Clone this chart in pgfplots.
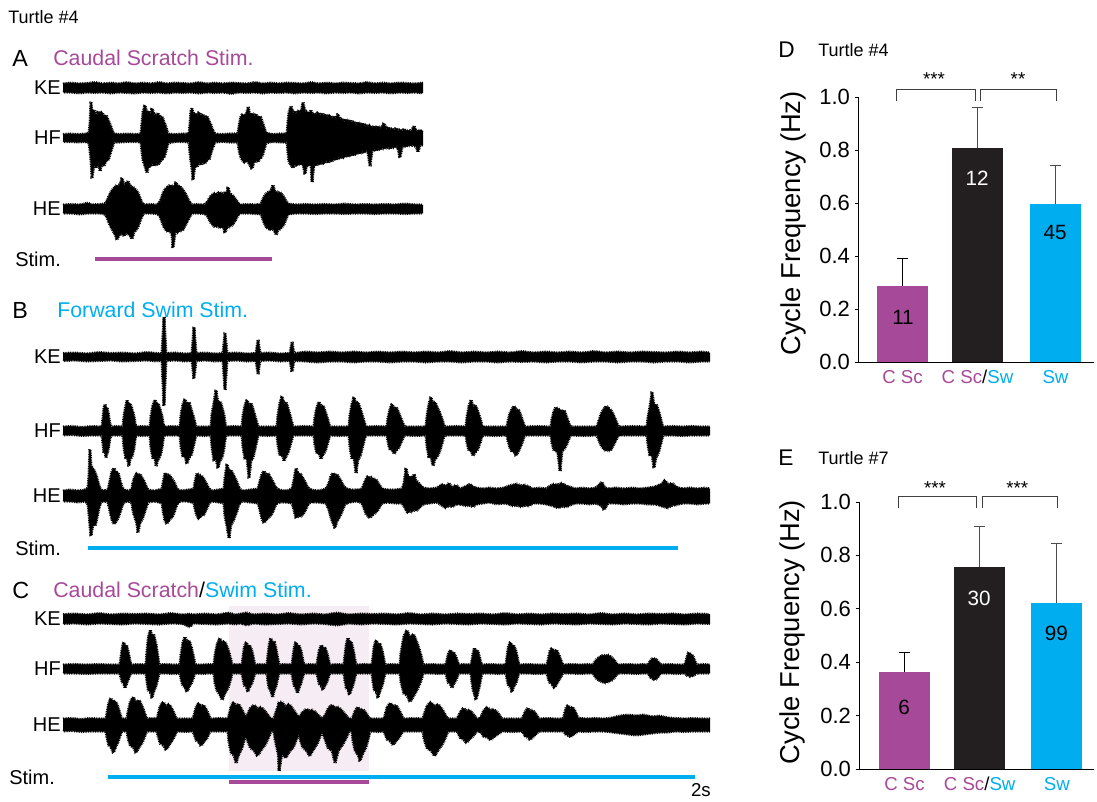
\documentclass[border=0pt]{standalone}
\usepackage{fontspec}
\setmainfont{Liberation Sans}
\usepackage{pgfplots}
\pgfplotsset{compat=1.18}
\usepackage{pgfplotstable}
\usepgfplotslibrary{fillbetween}
\usetikzlibrary{decorations.pathmorphing}
\definecolor{mag}{RGB}{167,73,153}
\definecolor{cy}{RGB}{0,174,239}
\definecolor{barblk}{RGB}{35,31,32}
\definecolor{hlpink}{RGB}{246,236,244}

% ---------- Panel A ----------
\pgfplotstableread{
x u l
63 4 -4
71 5 -4
79 4 -5
87 4.5 -4
95 5.5 -4.5
103 4 -4
111 5 -5
119 4 -4
127 5.5 -4.5
135 4 -5
143 5 -4
151 4 -4.5
159 5.5 -4
167 4 -5
175 5 -4
183 4.5 -4.5
191 4 -4
199 5.5 -5
207 4 -4
215 5 -4.5
223 4 -4
231 5 -5.5
239 4.5 -4
247 4 -4.5
255 5.5 -4
263 4 -5
271 5 -4
279 4 -4.5
287 5 -4
295 4.5 -5
303 4 -4
311 5.5 -4.5
319 4 -4
327 5 -5
335 4 -4
343 5 -4.5
351 4.5 -4
359 4 -5
367 5.5 -4
375 4 -4.5
383 5 -4
391 4 -5
399 5 -4
407 4.5 -4.5
415 4 -4
423 5 -5
}\tAKE

\pgfplotstableread{
x u l
63 3.5 -3.5
70 4 -3.5
78 3.5 -4
86 4 -3.5
89 5 -5
90 14 -12
91 36 -22
92 24 -40
94 28 -26
96 22 -30
98 27 -24
100 24 -33
102 26 -25
104 21 -28
106 23 -22
108 18 -23
110 14 -16
112 8 -10
114 4 -4
120 3.5 -4
128 4 -3.5
136 3.5 -3.5
141 4 -4
142 15 -14
143 26 -22
145 33 -28
147 24 -35
149 27 -26
151 23 -29
152 30 -24
154 24 -28
156 22 -25
158 25 -27
160 20 -24
162 22 -21
164 16 -20
166 11 -13
168 4 -5
175 3.5 -3.5
183 4 -3.5
189 4 -4
190 14 -15
191 28 -24
192 30 -30
193 24 -42
195 25 -26
197 22 -29
199 26 -24
201 21 -27
203 24 -23
205 20 -26
207 22 -21
209 17 -22
211 13 -15
213 7 -9
215 4 -4
222 3.5 -3.5
230 4 -4
238 4 -4
239 12 -12
241 22 -20
243 24 -23
245 21 -25
247 26 -22
248 31 -24
250 23 -27
252 25 -31
254 22 -24
256 24 -22
258 20 -24
260 22 -20
262 17 -19
264 11 -12
266 5 -5
272 3.5 -3.5
280 4 -4
287 4 -4
288 16 -15
289 26 -24
291 32 -27
293 25 -30
295 27 -24
297 24 -28
299 28 -25
301 25 -27
303 36 -26
305 26 -36
307 27 -25
309 24 -28
311 28 -24
312 24 -44
314 25 -26
316 23 -28
318 26 -24
320 22 -27
322 25 -23
324 21 -26
326 24 -22
328 20 -25
330 23 -21
332 19 -24
334 22 -20
336 18 -22
338 24 -19
340 17 -21
342 20 -18
344 16 -20
346 19 -17
348 15 -19
350 18 -16
352 14 -18
354 17 -15
356 13 -17
358 16 -14
360 12 -16
362 15 -13
364 12 -15
366 14 -12
368 11 -14
370 13 -28
372 10 -13
374 12 -11
376 10 -13
378 12 -10
380 9 -12
382 11 -10
384 15 -11
386 9 -10
388 11 -9
390 8 -11
392 10 -9
394 8 -10
396 10 -8
398 7 -10
400 9 -20
402 7 -9
404 9 -8
406 7 -9
408 8 -7
410 7 -8
412 8 -7
414 12 -8
416 7 -8
418 8 -14
420 7 -7
423 7 -7
}\tAHF

\pgfplotstableread{
x u l
63 4 -4
72 4.5 -4
80 4 -5
88 6 -4
92 4 -4
100 4.5 -4
105 5 -5
107 8 -8
109 13 -14
111 17 -18
113 20 -22
115 22 -25
117 24 -31
119 23 -26
121 27 -24
122 31 -25
124 24 -27
126 25 -24
128 28 -25
130 23 -26
132 22 -30
134 21 -23
136 19 -21
138 16 -18
140 11 -12
142 6 -7
144 4 -4
150 4.5 -4
157 4 -4.5
160 7 -7
162 13 -13
164 18 -18
166 21 -21
168 22 -23
170 24 -22
172 22 -25
173 23 -39
175 24 -24
176 27 -22
178 22 -24
180 23 -21
182 20 -22
184 18 -19
186 14 -15
188 10 -11
190 6 -7
192 4 -4
198 4.5 -4
204 4 -4.5
207 6 -6
209 10 -10
211 13 -14
213 15 -16
215 16 -18
217 15 -17
219 17 -18
221 16 -19
223 15 -17
225 17 -24
227 16 -18
228 22 -17
230 15 -18
232 14 -16
234 12 -14
236 9 -10
238 6 -6
240 4 -4
248 4.5 -4
256 4 -4.5
261 5 -5
263 10 -11
265 14 -16
267 16 -19
269 17 -20
271 18 -21
273 24 -20
275 17 -22
276 18 -26
278 16 -21
280 17 -20
282 14 -18
284 12 -15
286 8 -10
288 5 -5
296 4 -4
305 4.5 -4
315 4 -4.5
325 4.5 -4
335 4 -4
345 5 -4.5
355 4 -4
365 4.5 -4
375 4 -4.5
385 4.5 -4
395 4 -4
405 5 -4.5
415 4 -4
423 4 -4
}\tAHE

% ---------- Panel B ----------
\pgfplotstableread{
x u l
63 3.5 -3.5
75 4 -3
87 3 -4
99 4.5 -3.5
111 3.5 -3
123 4 -4
135 3 -3.5
147 4.5 -3
157 3.5 -4
162 3 -3
164 40 -49
166 3.5 -3.5
175 4 -3
185 3 -4
192 3.5 -3.5
194 30 -22
196 3.5 -3.5
205 4 -3
215 3 -4
223 3.5 -3.5
225 24 -33
227 3.5 -3.5
237 4 -3
247 3 -4
256 3.5 -3.5
258 17 -17
260 3.5 -3.5
270 4 -3
280 3 -4
290 3.5 -3.5
292 15 -15
294 3.5 -3.5
306 5 -4
318 4 -5
330 5 -4
342 4 -4
354 5 -5
366 4 -4
378 5 -4
390 4 -5
402 5 -4
414 4 -4
426 5 -5
438 4 -4
450 5.5 -4
462 4 -5
474 5 -4
486 4 -4
498 5 -5
510 4 -4
522 5.5 -4.5
534 4 -4
546 5 -5
558 4 -4
570 5 -4
582 4 -5
594 5.5 -4
606 4 -4
618 5 -5
630 4 -4
642 5 -4
654 4.5 -5
666 4 -4
678 5 -4
690 4 -5
702 5 -4
710 4 -4
}\tBKE

\pgfplotstableread{
x u l
63 4 -4
72 4.5 -3.5
82 3.5 -4.5
92 4.5 -4
102 4 -4
103 13 -13
104 23 -22
105 27 -20
106 21 -27
107 24 -22
108 19 -20
109 13 -14
110 7 -7
111 4 -4
117 4.5 -4
123 4 -4
124 15 -17
126 26 -28
127 31 -26
129 25 -35
130 28 -28
132 22 -26
134 15 -17
135 8 -9
136 4 -4
143 4.5 -4.5
150 4 -4
151 15 -17
153 26 -28
155 31 -26
156 25 -35
158 28 -28
160 22 -26
162 15 -17
163 8 -9
164 4 -4
172 4.5 -4
180 4 -4
181 16 -16
183 27 -26
185 32 -25
187 26 -33
189 29 -26
191 22 -25
193 16 -17
195 8 -8
196 4 -4
204 4 -4.5
211 4 -4
212 17 -16
214 28 -30
216 41 -27
218 27 -37
220 30 -29
222 24 -27
224 16 -17
225 8 -9
226 4 -4
234 4.5 -4
242 4 -4
243 15 -16
245 26 -28
247 31 -27
249 25 -47
251 28 -29
253 22 -27
255 15 -18
257 8 -9
258 4 -4
268 4 -4.5
277 4 -4
278 16 -14
280 28 -25
282 35 -22
284 27 -30
286 29 -25
288 23 -22
290 16 -15
292 8 -8
293 4 -4
304 4.5 -4
314 4 -4
315 14 -14
317 24 -23
319 29 -21
321 23 -28
323 26 -23
325 20 -21
327 14 -14
329 7 -7
330 4 -4
340 4 -4.5
349 4 -4
350 16 -16
352 27 -28
354 34 -26
356 26 -42
358 29 -28
360 23 -26
362 17 -18
364 10 -10
365 6 -6
366 4 -4
377 4.5 -4
387 4 -4
388 13 -11
390 22 -19
392 27 -18
394 22 -23
396 24 -19
398 20 -18
400 15 -14
402 10 -9
404 5 -5
405 4 -4
416 4 -4.5
426 4 -4
427 15 -15
429 27 -27
431 34 -25
433 26 -35
435 29 -28
437 24 -26
439 20 -22
441 15 -16
443 9 -9
444 5 -5
445 4 -4
456 4.5 -4
466 4 -4
467 14 -12
469 25 -20
471 31 -19
473 24 -25
475 26 -21
477 22 -20
479 16 -15
481 10 -9
482 5 -5
483 4 -4
495 4 -4.5
507 4 -4
508 10 -10
510 18 -17
512 22 -21
514 25 -20
516 21 -25
518 22 -21
520 18 -17
522 12 -12
524 6 -6
525 4 -4
538 4.5 -4
551 4 -4
552 12 -12
554 20 -20
556 24 -19
558 20 -22
560 22 -40
562 19 -20
564 21 -18
566 16 -15
568 10 -10
570 5 -5
571 4 -4
585 4 -4.5
597 4 -4
598 7 -7
600 14 -12
602 19 -16
604 22 -18
606 25 -20
608 23 -19
610 22 -20
612 19 -17
614 15 -13
616 10 -9
618 5 -5
619 4 -4
633 4.5 -4
647 4 -4
648 14 -14
650 24 -25
652 39 -23
654 25 -37
656 27 -26
658 22 -23
660 15 -16
662 7 -8
663 4 -4
672 4.5 -4
682 4 -4.5
692 4.5 -4
702 4 -4
710 4 -4
}\tBHF

\pgfplotstableread{
x u l
63 5 -5
70 6 -5
78 5 -6
85 6 -5
88 8 -8
89 20 -18
90 47 -30
91 30 -40
93 27 -28
95 24 -30
97 18 -22
99 10 -12
101 6 -6
105 5 -5
108 6 -6
110 15 -15
112 25 -24
114 28 -28
116 22 -26
118 24 -22
120 16 -17
122 9 -10
124 6 -6
129 5 -5
132 7 -7
133 14 -15
135 20 -22
137 23 -28
138 21 -37
140 22 -26
142 18 -24
144 15 -18
146 10 -12
148 6 -6
155 5 -5
162 7 -7
163 13 -14
165 23 -25
167 20 -28
169 22 -24
171 18 -22
173 16 -20
175 12 -14
177 7 -8
180 5 -5
188 6 -5
194 7 -7
195 14 -13
197 23 -20
199 20 -23
201 21 -19
203 18 -20
205 15 -16
207 11 -12
209 7 -7
212 5 -5
218 6 -6
224 7 -7
225 18 -20
227 32 -30
229 24 -42
231 26 -28
233 22 -26
235 18 -20
237 14 -15
239 8 -8
242 5 -5
250 6 -6
258 7 -7
260 15 -14
262 22 -23
264 25 -27
266 21 -24
268 23 -22
270 19 -20
272 16 -18
274 12 -13
276 8 -8
279 6 -6
286 5 -6
292 7 -7
294 16 -14
296 28 -22
298 22 -20
300 23 -21
302 19 -19
304 16 -17
306 12 -13
308 8 -8
311 6 -6
318 5 -6
326 7 -7
329 13 -14
331 20 -22
333 23 -27
335 20 -32
337 22 -25
339 18 -22
341 15 -18
343 11 -13
345 8 -8
350 6 -6
357 6 -5
362 7 -7
364 12 -12
366 17 -18
368 20 -20
370 18 -22
372 19 -19
374 16 -18
376 17 -16
378 13 -14
380 10 -10
382 7 -7
388 6 -6
395 6 -7
402 7 -7
404 12 -10
406 28 -14
408 18 -17
410 20 -15
412 17 -16
414 22 -14
416 15 -15
418 14 -13
420 11 -11
423 8 -8
430 7 -7
437 8 -6
443 12 -10
446 9 -12
449 13 -9
452 8 -11
456 11 -8
460 7 -8
467 10 -10
470 12 -9
473 9 -11
476 8 -8
483 7 -7
490 8 -6
497 7 -8
504 8 -7
509 10 -8
513 11 -10
517 12 -9
521 10 -11
525 11 -9
529 9 -10
533 7 -7
540 8 -7
546 7 -8
550 10 -9
554 12 -10
558 11 -12
562 13 -10
566 10 -11
570 9 -9
575 7 -7
582 8 -7
590 7 -8
596 8 -7
602 14 -10
604 9 -14
608 7 -7
616 8 -7
624 7 -8
632 8 -7
640 7 -7
648 8 -8
655 9 -8
662 12 -10
665 16 -11
668 11 -12
672 13 -9
676 9 -9
682 7 -7
690 8 -7
698 7 -8
705 8 -7
710 7 -7
}\tBHE

% ---------- Panel C ----------
\pgfplotstableread{
x u l
63 4.5 -4.5
75 5 -4
87 4 -5
99 5.5 -4
111 4 -4.5
123 5 -5
135 4.5 -4
147 5 -4.5
159 4 -5
171 5.5 -4
183 4 -4.5
190 5 -8
193 4 -4
205 5 -4.5
217 4 -5
229 6 -4
235 4 -5
241 5 -4
247 6 -6
253 4 -4
265 5 -5
277 4 -4.5
289 5.5 -4
301 4 -5
313 5 -4
325 4 -4.5
337 6 -6
349 4 -4
361 5 -5
373 4.5 -4
385 5 -4.5
397 4 -5
409 5.5 -4
421 4 -4.5
433 5 -5
445 4 -4
457 5 -4.5
469 4.5 -5
481 5 -4
493 4 -4.5
505 5.5 -5
517 4 -4
529 5 -4.5
541 4 -5
553 5 -4
565 4.5 -4.5
577 5 -5
589 4 -4
601 5.5 -4.5
613 4 -5
625 5 -4
637 4 -4.5
649 5 -5
661 4.5 -4
673 5 -4.5
685 4 -5
697 5 -4
710 4.5 -4.5
}\tCKE

\pgfplotstableread{
x u l
63 4 -4
75 4.5 -4
87 4 -4.5
99 4.5 -4
110 4 -4
120 4 -4
121 12 -9
122.5 23 -14
124 27 -15
125 22 -19
126.5 24 -15
128 18 -11
130 8 -6
131 4 -4
138 4.5 -4
146 4 -4
147 18 -13
148.5 33 -22
150.5 39 -23
152 31 -29
153.5 35 -23
156 25 -17
158 12 -9
159 4 -4
166 4.5 -4
173 4 -4.5
180 4 -4
181 14 -10
183 27 -17
185 32 -18
187 26 -23
189 29 -18
191.5 21 -14
194 10 -7
195 4 -4
202 4 -4.5
209 4.5 -4
214 4 -4
215 14 -14
217.5 26 -23
220 31 -25
222 25 -31
224.5 28 -25
228 20 -19
231 9 -9
232 4 -4
237 4.5 -4
242 4 -4
243 12 -10
244.5 23 -17
246.5 27 -18
248 22 -23
249.5 24 -18
252 18 -14
254 8 -7
255 4 -4
261 4.5 -4
267 4 -4
268 14 -13
269.5 26 -21
271 31 -22
272.5 25 -28
274 28 -22
276 20 -17
278 9 -8
279 4 -4
286 4.5 -4
292 4 -4
293 12 -11
294.5 23 -18
296 27 -19
297.5 22 -24
299 24 -19
301 18 -14
303 8 -7
304 4 -4
311 4.5 -4
317 4 -4
318 11 -9
319.5 20 -16
321.5 24 -17
323 19 -21
324.5 22 -17
327 16 -13
329 7 -6
330 4 -4
337 4.5 -4
344 4 -4
345 14 -12
346.5 26 -20
348 31 -21
349.5 25 -26
351 28 -21
353 20 -16
355 9 -8
356 4 -4
364 4.5 -4
372 4 -4
373 13 -13
374.5 25 -22
376.5 29 -23
378 23 -29
379.5 26 -23
382 19 -17
384 9 -9
385 4 -4
393 4.5 -4
400 4 -4
401 16 -13
404 33 -25
407 39 -26
410 31 -33
413.5 35 -27
417.5 25 -20
420 17 -14
422 10 -9
423 4 -4
431 4.5 -4
439 4 -4.5
446 4 -4
447 9 -9
448.5 16 -14
450.5 19 -15
452 15 -19
453.5 17 -15
456 12 -11
458 6 -6
459 4 -4
465 4.5 -4
471 4 -4
472 9 -14
473.5 18 -23
474.5 21 -25
476 17 -31
477.5 19 -25
479 14 -19
481 6 -9
482 4 -4
490 4.5 -4
499 4 -4.5
506 4 -4
507 12 -10
508.5 23 -17
510.5 27 -18
512 22 -23
513.5 24 -18
516 18 -14
518 8 -7
519 4 -4
527 4.5 -4
537 4 -4.5
547 4 -4
548 9 -9
550 18 -14
552 21 -15
554.5 17 -19
556.5 19 -15
559 14 -11
562 6 -6
563 4 -4
571 4.5 -4
580 4 -4.5
588 4.5 -4
593 4 -4
594 6 -6
597 10 -10
600 12 -12
603 14 -13
606 13 -14
609 14 -12
612 11 -11
615 8 -8
617 5 -5
618 4 -4
627 4.5 -4
637 4 -4.5
644 4.5 -4
648 4 -4
649 6 -6
651 9 -9
653 11 -10
655 10 -11
657 9 -9
660 5 -5
661 4 -4
669 4.5 -4
677 4 -4.5
685 4 -4
686 8 -5
687.5 14 -7
689 17 -7
690.5 13 -8
692 15 -7
694 10 -6
696 5 -5
697 4 -4
704 4.5 -4
710 4 -4
}\tCHF

\pgfplotstableread{
x u l
63 6 -6
72 6.5 -5.5
81 5.5 -6.5
90 6.5 -6
99 6 -6
106 6 -6
107 12 -13
109 23 -21
111 27 -22
113.5 22 -28
115.5 24 -22
118 18 -17
121 8 -8
122 6 -6
125 6 -6
127 6 -6
128 13 -13
130.5 24 -21
133.5 28 -22
136 22 -28
139 25 -22
142.5 18 -17
146 8 -8
147 6 -6
152 6.5 -6
157 6 -6
158 10 -11
160.5 20 -19
163.5 23 -20
166 18 -25
169 21 -20
172.5 15 -15
176 7 -8
177 6 -6
185 6 -6.5
193 6 -6
194 10 -9
196.5 19 -16
199 22 -17
201 18 -21
203.5 20 -17
207 14 -13
210 7 -6
211 6 -6
220 6.5 -6
228 6 -6
229 10 -17
231.5 20 -29
234 23 -30
236 18 -38
238.5 21 -30
242 15 -23
245 9 -12
246 8 -9
247 9 -14
250.5 17 -23
254 20 -25
257.5 16 -31
261 18 -25
265.5 13 -19
270 7 -9
271 6 -6
274 6 -6
275 10 -14
278.5 20 -30
279 23 -46
282 23 -28
285.5 18 -33
289 21 -27
293.5 15 -22
298 8 -10
299 7 -8
300 9 -14
303 13 -23
306.5 16 -25
309.5 14 -31
313 15 -25
317 11 -19
321 7 -9
322 6 -6
325 9 -14
328.5 17 -24
332 20 -25
335 17 -38
338.5 18 -25
343 13 -19
348 7 -9
349 6 -6
352 6 -6
353 8 -16
355.5 15 -27
358 18 -29
360 14 -36
362.5 16 -29
366 12 -22
369 7 -11
370 6 -6
378 6 -6.5
384 6 -6
385 10 -9
387.5 19 -15
390.5 22 -16
393 18 -20
396 20 -16
399.5 14 -12
403 7 -6
404 6 -6
414 6.5 -6
423 6 -6
424 10 -14
427.5 20 -24
431 23 -25
434.5 18 -31
438 21 -25
442.5 15 -19
447 7 -9
448 6 -6
453 6 -6
457 6 -6
458 8 -8
461 14 -14
463.5 17 -14
466.5 14 -18
469.5 15 -14
473 11 -11
477 6 -6
479 6 -6
481 8 -7
484 15 -12
487.5 18 -12
490.5 14 -15
493.5 16 -12
498 12 -9
502 6 -6
512 6 -6.5
522 6 -6
523 8 -7
525.5 14 -12
528 17 -12
530 14 -15
532.5 15 -12
536 11 -9
539 6 -6
548 6.5 -6
556 6 -6
563 6 -6
564 9 -6
566 17 -10
568 20 -10
570.5 16 -12
572.5 18 -10
575.5 13 -8
578 7 -6
586 6 -6.5
595 6.5 -6
604 6 -6
612 7 -7
620 9 -8
628 10 -9
636 9 -10
644 10 -9
652 8 -8
660 9 -7
668 7 -7
676 6.5 -6
684 6 -6.5
692 6.5 -6
701 6 -6
710 6 -6
}\tCHE

\pgfplotsset{
  trace/.style={scale only axis, hide axis, ymin=-60, ymax=60, height=90pt,
    clip=false, anchor=west, set layers},
  traceA/.style={trace, xmin=63, xmax=423, width=270pt},
  traceBC/.style={trace, xmin=63, xmax=710, width=485.25pt},
  fuzz/.style={black, line width=0.45pt, line join=bevel, decorate,
    decoration={zigzag, amplitude=1.1pt, segment length=1.3pt}},
  barax/.style={scale only axis, ymin=0, ymax=1, clip=false,
    axis x line=bottom, axis y line=left,
    axis line style={-, line width=0.75pt, black},
    ytick={0,0.2,0.4,0.6,0.8,1.0},
    /pgf/number format/assume math mode=true,
    yticklabel style={/pgf/number format/.cd, fixed, fixed zerofill, precision=1,
      /tikz/.cd, font=\fontsize{16.5}{18}\selectfont},
    tick align=outside, major tick length=2.5pt,
    tick style={line width=0.75pt, black},
    xtick style={draw=none},
    xticklabel style={font=\fontsize{14}{16}\selectfont},
    xticklabels={\textcolor{mag}{C Sc}, \textcolor{mag}{C Sc}/\textcolor{cy}{Sw}, \textcolor{cy}{Sw}},
    ylabel={Cycle Frequency (Hz)},
  },
}
\newcommand{\trace}[2]{%
  \addplot[name path=#2u, draw=none] table[x=x, y=u] {#1};
  \addplot[name path=#2l, draw=none] table[x=x, y=l] {#1};
  \addplot[black] fill between[of=#2u and #2l];
  \addplot[fuzz] table[x=x, y=u] {#1};
  \addplot[fuzz] table[x=x, y=l] {#1};
}

\begin{document}
\begin{tikzpicture}
\begin{scope}[x=0.75pt, y=-0.75pt]
  \coordinate (AKE) at (63,88);
  \coordinate (AHF) at (63,138);
  \coordinate (AHE) at (63,209);
  \coordinate (BKE) at (63,357);
  \coordinate (BHF) at (63,431);
  \coordinate (BHE) at (63,496);
  \coordinate (CKE) at (63,619);
  \coordinate (CHF) at (63,669);
  \coordinate (CHE) at (63,725);
  \coordinate (Dorig) at (858,362);
  \coordinate (Eorig) at (859,769);
  % texts
  \node[anchor=west, inner sep=0, font=\fontsize{13.5}{15}\selectfont] at (8,17) {Turtle \#4};
  \node[anchor=west, inner sep=0, font=\fontsize{17.5}{19}\selectfont] at (12,58) {A};
  \node[anchor=west, inner sep=0, font=\fontsize{16}{18}\selectfont, text=mag] at (53,58) {Caudal Scratch Stim.};
  \node[anchor=west, inner sep=0, font=\fontsize{17.5}{19}\selectfont] at (12,310) {B};
  \node[anchor=west, inner sep=0, font=\fontsize{16}{18}\selectfont, text=cy] at (57,310) {Forward Swim Stim.};
  \node[anchor=west, inner sep=0, font=\fontsize{17.5}{19}\selectfont] at (12,590) {C};
  \node[anchor=west, inner sep=0, font=\fontsize{16}{18}\selectfont] at (53,590) {\textcolor{mag}{Caudal Scratch}/\textcolor{cy}{Swim Stim.}};
  \foreach \yy/\tt in {88/KE,138/HF,209/HE,357/KE,431/HF,496/HE,619/KE,669/HF,725/HE}
    \node[anchor=east, inner sep=0, font=\fontsize{15}{17}\selectfont] at (61,\yy) {\tt};
  \node[anchor=west, inner sep=0, font=\fontsize{15}{17}\selectfont] at (15,259) {Stim.};
  \node[anchor=west, inner sep=0, font=\fontsize{15}{17}\selectfont] at (15,548) {Stim.};
  \node[anchor=west, inner sep=0, font=\fontsize{15}{17}\selectfont] at (9,777) {Stim.};
  \node[anchor=east, inner sep=0, font=\fontsize{14}{16}\selectfont] at (711,790) {2s};
  \node[anchor=west, inner sep=0, font=\fontsize{17}{19}\selectfont] at (778,50) {D};
  \node[anchor=west, inner sep=0, font=\fontsize{13.5}{15}\selectfont] at (818,50) {Turtle \#4};
  \node[anchor=west, inner sep=0, font=\fontsize{17}{19}\selectfont] at (778,458) {E};
  \node[anchor=west, inner sep=0, font=\fontsize{13.5}{15}\selectfont] at (818,458) {Turtle \#7};
\end{scope}

% ---- traces A ----
\begin{axis}[traceA, at={(AKE)}] \trace{\tAKE}{ake} \end{axis}
\begin{axis}[traceA, at={(AHF)}] \trace{\tAHF}{ahf} \end{axis}
\begin{axis}[traceA, at={(AHE)}] \trace{\tAHE}{ahe}
  \addplot[mag, line width=2.3pt] coordinates {(95,-50) (272,-50)};
\end{axis}
% ---- traces B ----
\begin{axis}[traceBC, at={(BKE)}] \trace{\tBKE}{bke} \end{axis}
\begin{axis}[traceBC, at={(BHF)}] \trace{\tBHF}{bhf} \end{axis}
\begin{axis}[traceBC, at={(BHE)}] \trace{\tBHE}{bhe}
  \addplot[cy, line width=2.3pt] coordinates {(88,-52) (678,-52)};
\end{axis}
% ---- traces C ----
\begin{axis}[traceBC, at={(CKE)}]
  \addplot[fill=hlpink, draw=none, on layer=axis background] coordinates {(229,13) (369,13) (369,-152) (229,-152)} --cycle;
  \trace{\tCKE}{cke}
\end{axis}
\begin{axis}[traceBC, at={(CHF)}] \trace{\tCHF}{chf} \end{axis}
\begin{axis}[traceBC, at={(CHE)}] \trace{\tCHE}{che}
  \addplot[cy, line width=2.3pt] coordinates {(108,-52) (695,-52)};
  \addplot[mag, line width=2.3pt] coordinates {(229,-57) (369,-57)};
\end{axis}

% ---- D ----
\begin{axis}[barax, at={(Dorig)}, anchor=south west, width=177pt, height=198.75pt,
  xmin=858, xmax=1094, xtick={902.5,977.5,1055.5},
  ylabel style={font=\fontsize{20.5}{22}\selectfont, at={(axis description cs:-0.275,0.523)}, anchor=center}]
  \addplot[ybar, bar width=38.25pt, bar shift=0pt, fill=mag, draw=none] coordinates {(902.5,0.287)};
  \addplot[ybar, bar width=38.25pt, bar shift=0pt, fill=barblk, draw=none] coordinates {(977.5,0.808)};
  \addplot[ybar, bar width=38.25pt, bar shift=0pt, fill=cy, draw=none] coordinates {(1055.5,0.596)};
  \addplot[black, line width=0.75pt] coordinates {(902.5,0.287) (902.5,0.392)};
  \addplot[black, line width=0.75pt] coordinates {(897,0.392) (908,0.392)};
  \addplot[black!70, line width=0.75pt] coordinates {(977.5,0.808) (977.5,0.962)};
  \addplot[black!70, line width=0.75pt] coordinates {(972,0.962) (983,0.962)};
  \addplot[black!70, line width=0.75pt] coordinates {(1055.5,0.596) (1055.5,0.740)};
  \addplot[black!70, line width=0.75pt] coordinates {(1050,0.740) (1061,0.740)};
  \addplot[black!75, line width=0.75pt] coordinates {(896,0.985) (896,1.03) (975,1.03) (975,0.985)};
  \addplot[black!75, line width=0.75pt] coordinates {(980,0.985) (980,1.03) (1056,1.03) (1056,0.985)};
  \node[anchor=base, font=\fontsize{14}{16}\selectfont] at (axis cs:934,1.042) {***};
  \node[anchor=base, font=\fontsize{14}{16}\selectfont] at (axis cs:1018,1.042) {**};
  \node[font=\fontsize{15.5}{17}\selectfont] at (axis cs:903,0.170) {11};
  \node[font=\fontsize{15.5}{17}\selectfont, text=white] at (axis cs:977,0.694) {12};
  \node[font=\fontsize{15.5}{17}\selectfont] at (axis cs:1055,0.487) {45};
\end{axis}

% ---- E ----
\begin{axis}[barax, at={(Eorig)}, anchor=south west, width=176.25pt, height=200.25pt,
  xmin=859, xmax=1094, xtick={904.5,979.5,1056.5},
  ylabel style={font=\fontsize{20.5}{22}\selectfont, at={(axis description cs:-0.281,0.513)}, anchor=center}]
  \addplot[ybar, bar width=38.25pt, bar shift=0pt, fill=mag, draw=none] coordinates {(904.5,0.363)};
  \addplot[ybar, bar width=38.25pt, bar shift=0pt, fill=barblk, draw=none] coordinates {(979.5,0.757)};
  \addplot[ybar, bar width=38.25pt, bar shift=0pt, fill=cy, draw=none] coordinates {(1056.5,0.622)};
  \addplot[black, line width=0.75pt] coordinates {(904.5,0.363) (904.5,0.438)};
  \addplot[black, line width=0.75pt] coordinates {(899,0.438) (910,0.438)};
  \addplot[black!70, line width=0.75pt] coordinates {(979.5,0.757) (979.5,0.910)};
  \addplot[black!70, line width=0.75pt] coordinates {(974,0.910) (985,0.910)};
  \addplot[black!70, line width=0.75pt] coordinates {(1056.5,0.622) (1056.5,0.843)};
  \addplot[black!70, line width=0.75pt] coordinates {(1051,0.843) (1062,0.843)};
  \addplot[black!75, line width=0.75pt] coordinates {(898,0.978) (898,1.019) (976,1.019) (976,0.978)};
  \addplot[black!75, line width=0.75pt] coordinates {(982,0.978) (982,1.019) (1057,1.019) (1057,0.978)};
  \node[anchor=base, font=\fontsize{14}{16}\selectfont] at (axis cs:935,1.030) {***};
  \node[anchor=base, font=\fontsize{14}{16}\selectfont] at (axis cs:1017,1.030) {***};
  \node[font=\fontsize{15.5}{17}\selectfont] at (axis cs:904,0.232) {6};
  \node[font=\fontsize{15.5}{17}\selectfont, text=white] at (axis cs:979,0.640) {30};
  \node[font=\fontsize{15.5}{17}\selectfont] at (axis cs:1056,0.509) {99};
\end{axis}

\begin{scope}[x=0.75pt, y=-0.75pt]
  \pgfresetboundingbox
  \path[use as bounding box] (0,0) rectangle (1097,801);
\end{scope}
\end{tikzpicture}
\end{document}
